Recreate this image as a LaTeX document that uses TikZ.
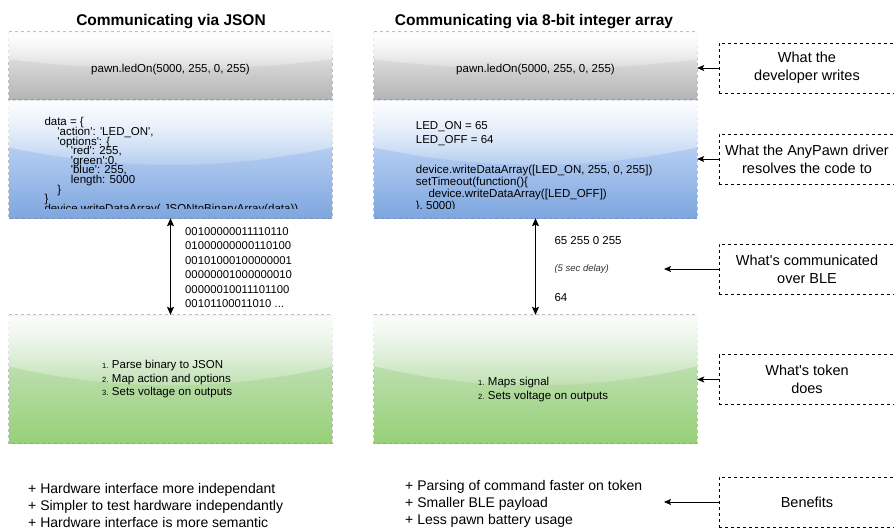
\documentclass[tikz,border=0pt]{standalone}
\usepackage{fontspec}
\setmainfont{Liberation Sans}[Ligatures=TeXOff]
\usetikzlibrary{arrows.meta,calc,fadings}

% panel colours (light top, saturated bottom)
\definecolor{grayA}{HTML}{F5F5F5}
\definecolor{grayB}{HTML}{B3B3B3}
\definecolor{blueA}{HTML}{DAE8FC}
\definecolor{blueB}{HTML}{7EA6E0}
\definecolor{greenA}{HTML}{D5E8D4}
\definecolor{greenB}{HTML}{97D077}
\definecolor{noteInk}{HTML}{333333}

% white sheen that fades out towards the middle of a panel
\tikzfading[name=glassfade, top color=transparent!10, bottom color=transparent!90]

\newcommand\fsz[2]{\fontsize{#1}{#2}\selectfont}
% stack of lines at a fixed baseline distance, baseline = first line
\newcommand\linestack[1]{\vtop{\lineskiplimit=-50pt\relax #1}}

% glossy overlay on the upper part of a panel node (covers its frame too)
\newcommand\glassover[1]{%
  \path[fill=white, path fading=glassfade]
    let \p1=($(#1.north west)+(-0.6pt,-0.6pt)$), \p2=($(#1.south east)+(0.6pt,0pt)$),
        \p3=(#1.north west),
        \n1={\y2-(\y3)}, \n2={\x2-(\x1)} in
    (\x1,\y1) -- (\x1,{\y3+0.4*(\n1)})
    .. controls ({\x1+(\n2)/3},{\y3+0.6*(\n1)}) and ({\x1+2*(\n2)/3},{\y3+0.6*(\n1)})
    .. (\x2,{\y3+0.4*(\n1)}) -- (\x2,\y1) -- cycle;}

\tikzset{
  panel/.style n args={3}{rectangle, inner sep=0pt, minimum width=323pt,
    minimum height=#1, top color=#2, bottom color=#3},
  panelframe/.style={draw=gray, draw opacity=0.5, line width=0.8pt, dash pattern=on 3pt off 3pt},
  heading/.style={font=\fsz{15.5}{18}\bfseries, inner sep=0pt},
  plain/.style={font=\fsz{11.5}{14}, inner sep=0pt},
  codeblock/.style={font=\fsz{11.5}{#1}, inner sep=0pt, anchor=base west},
  steps/.style={font=\fsz{11.5}{#1}, inner sep=0pt, anchor=base west},
  notebox/.style={draw, line width=0.8pt, dash pattern=on 3pt off 3pt,
    minimum width=176pt, minimum height=50pt, inner sep=0pt, align=center,
    font=\fsz{14.5}{18}},
  pointer/.style={line width=0.8pt, -{Stealth[length=7pt,width=6pt,inset=1.5pt]}},
  link/.style={line width=0.8pt, {Stealth[length=8pt,width=7pt,inset=1.5pt]}-{Stealth[length=8pt,width=7pt,inset=1.5pt]}},
  plus/.style={font=\fsz{14}{17}, inner sep=0pt, anchor=base west}
}

\newcommand\num[1]{{\fsz{7.5}{9}#1}}

\begin{document}
\begin{tikzpicture}[x=1pt, y=-1pt]
\useasboundingbox (0,0) rectangle (894,528);
\fill[white] (0,0) rectangle (894,528);
\clip (0,0) rectangle (894,528);

% column headings
\node[heading] (headL) at (171,21.5) {Communicating via JSON};
\node[heading] (headR) at (534,21.5) {Communicating via 8-bit integer array};

% panels
\node[panel={68pt}{grayA}{grayB}]    (grayL)  at (170.5,66)  {};
\node[panel={118pt}{blueA}{blueB}]   (blueL)  at (170.5,159) {};
\node[panel={128pt}{greenA}{greenB}] (greenL) at (170.5,379) {};
\node[panel={68pt}{grayA}{grayB}]    (grayR)  at (535.5,66)  {};
\node[panel={118pt}{blueA}{blueB}]   (blueR)  at (535.5,159) {};
\node[panel={128pt}{greenA}{greenB}] (greenR) at (535.5,379) {};

\draw[panelframe] (grayL.north west) rectangle (grayL.south east);
\draw[panelframe] (blueL.north west) rectangle (blueL.south east);
\draw[panelframe] (greenL.north west) rectangle (greenL.south east);
\draw[panelframe] (grayR.north west) rectangle (grayR.south east);
\draw[panelframe] (blueR.north west) rectangle (blueR.south east);
\draw[panelframe] (greenR.north west) rectangle (greenR.south east);

\glassover{grayL}
\glassover{blueL}
\glassover{greenL}
\glassover{grayR}
\glassover{blueR}
\glassover{greenR}

% developer call
\node[plain] (callL) at (170.5,70) {pawn.ledOn(5000, 255, 0, 255)};
\node[plain] (callR) at (535.5,70) {pawn.ledOn(5000, 255, 0, 255)};

% driver code, cut off at the lower edge
\begin{scope}
  \clip (blueL.north west) rectangle ([yshift=9.5pt]blueL.south east);
  \node[codeblock=9.6] (codeL) at (44.3,125.8) {\linestack{%
\hbox{data = \{}
\hbox{\hskip13pt 'action': 'LED\_ON',}
\hbox{\hskip13pt 'options': \{}
\hbox{\hskip26.4pt 'red': 255,}
\hbox{\hskip26.4pt 'green':0,}
\hbox{\hskip26.4pt 'blue': 255,}
\hbox{\hskip26.4pt length: 5000}
\hbox{\hskip13pt \}}
\hbox{\}}
\hbox{device.writeDataArray( JSONtoBinaryArray(data))}}};
\end{scope}
\begin{scope}
  \clip (blueR.north west) rectangle ([yshift=9.5pt]blueR.south east);
  \node[codeblock=14] (constR) at (415.7,129.1) {\linestack{%
\hbox{LED\_ON = 65}
\hbox{LED\_OFF = 64}}};
  \node[codeblock=12] (codeR) at (415.7,173.1) {\linestack{%
\hbox{device.writeDataArray([LED\_ON, 255, 0, 255])}
\hbox{setTimeout(function()\{}
\hbox{\hskip12.6pt device.writeDataArray([LED\_OFF])}
\hbox{\}, 5000)}}};
\end{scope}

% payload sent over the link
\node[codeblock=14.5, font=\fsz{11.3}{14.5}] (bits) at (185,235.1) {\linestack{%
\hbox{00100000011110110}
\hbox{01000000000110100}
\hbox{00101000100000001}
\hbox{00000001000000010}
\hbox{00000010011101100}
\hbox{00101100011010 ...}}};
\node[plain, anchor=west] (bytesA) at (554.3,241) {65 255 0 255};
\node[plain, anchor=west, font=\fsz{9.5}{11}\itshape, text=noteInk] (pause) at (554.3,269.5) {(5 sec delay)};
\node[plain, anchor=west] (bytesB) at (554.3,297.5) {64};

% token steps
\node[steps=13.5] (stepsL) at (102,368.6) {\begin{tabular}[t]{@{}r@{\hspace{3.5pt}}l@{}}
\num{1.} & Parse binary to JSON\\
\num{2.} & Map action and options\\
\num{3.} & Sets voltage on outputs
\end{tabular}};
\node[steps=14] (stepsR) at (478,385.1) {\begin{tabular}[t]{@{}r@{\hspace{3.5pt}}l@{}}
\num{1.} & Maps signal\\
\num{2.} & Sets voltage on outputs
\end{tabular}};

% benefits
\node[plus] (prosL) at (28,493) {\linestack{%
\hbox{+ Hardware interface more independant}
\hbox{+ Simpler to test hardware independantly}
\hbox{+ Hardware interface is more semantic}}};
\node[plus] (prosR) at (405,490) {\linestack{%
\hbox{+ Parsing of command faster on token}
\hbox{+ Smaller BLE payload}
\hbox{+ Less pawn battery usage}}};

% link between driver and token
\draw[link] (blueL.south) -- (greenL.north);
\draw[link] (blueR.south) -- (greenR.north);

% side notes
\node[notebox] (noteDev)   at (807,68)    {What the\\developer writes};
\node[notebox] (noteDrv)   at (807,159)   {What the AnyPawn driver\\resolves the code to};
\node[notebox] (noteBle)   at (807,269)   {What's communicated\\over BLE};
\node[notebox] (noteToken) at (807,379.5) {What's token\\does};
\node[notebox] (noteGain)  at (807,502)   {Benefits};

\coordinate (bleTip)  at (664,269);
\coordinate (gainTip) at (664,502);

\draw[pointer] (noteDev.west)   -- (noteDev.west -| grayR.east);
\draw[pointer] (noteDrv.west)   -- (noteDrv.west -| blueR.east);
\draw[pointer] (noteBle.west)   -- (bleTip);
\draw[pointer] (noteToken.west) -- (noteToken.west -| greenR.east);
\draw[pointer] (noteGain.west)  -- (gainTip);
\end{tikzpicture}
\end{document}
